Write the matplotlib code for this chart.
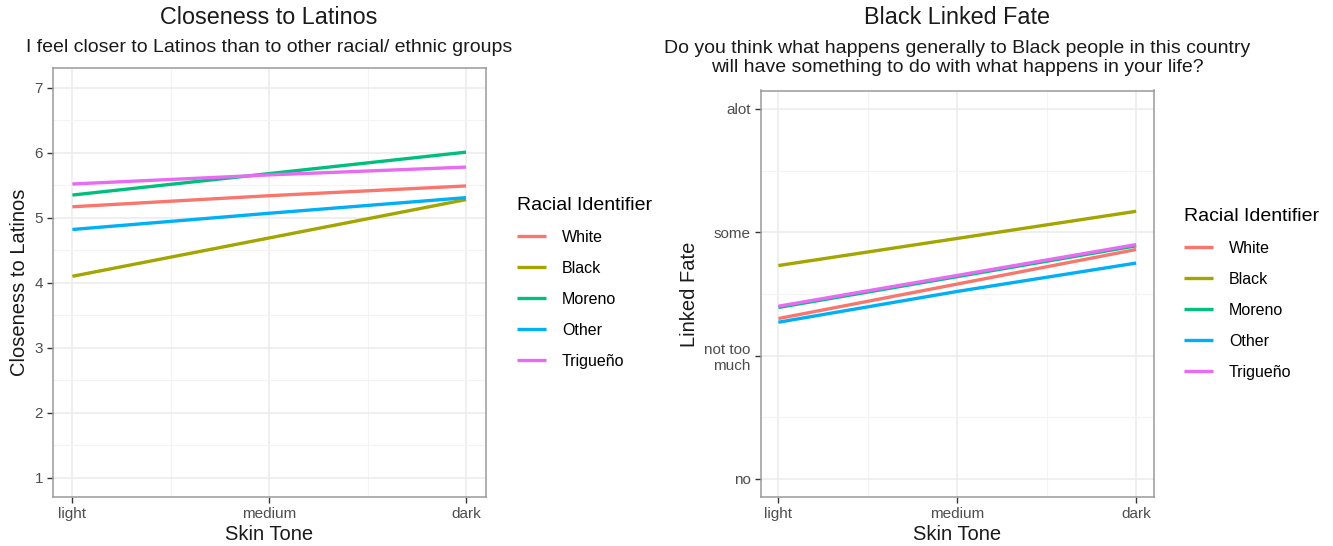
import matplotlib.pyplot as plt
from matplotlib.ticker import FixedLocator

plt.rcParams['font.family'] = ['Liberation Sans', 'DejaVu Sans']

W, H = 1333, 546

tones = ["light", "medium", "dark"]
tone_pos = [1, 2, 3]
groups = ["White", "Black", "Moreno", "Other", "Trigueño"]
colors = ["#F8766D", "#A3A500", "#00BF7D", "#00B0F6", "#E76BF3"]

# closeness to Latinos (1-7 scale), light / medium / dark
close_white = [5.17, 5.34, 5.49]
close_black = [4.10, 4.69, 5.28]
close_moreno = [5.35, 5.68, 6.01]
close_other = [4.82, 5.07, 5.31]
close_trig = [5.52, 5.66, 5.78]

# linked fate (1=no ... 4=alot)
fate_white = [2.30, 2.58, 2.86]
fate_black = [2.73, 2.95, 3.17]
fate_moreno = [2.39, 2.64, 2.89]
fate_other = [2.27, 2.52, 2.75]
fate_trig = [2.40, 2.65, 2.90]

fate_levels = [1, 2, 3, 4]
fate_labels = ["no", "not too\nmuch", "some", "alot"]

close_series = [close_white, close_black, close_moreno, close_other, close_trig]
fate_series = [fate_white, fate_black, fate_moreno, fate_other, fate_trig]


def px(x0, y0, x1, y1):
    return [x0 / W, 1 - y1 / H, (x1 - x0) / W, (y1 - y0) / H]


def style(ax, xminor, yminor):
    ax.set_facecolor("white")
    ax.xaxis.set_minor_locator(FixedLocator(xminor))
    ax.yaxis.set_minor_locator(FixedLocator(yminor))
    ax.grid(which="major", color="#EBEBEB", lw=1.1)
    ax.grid(which="minor", color="#F3F3F3", lw=0.8)
    ax.set_axisbelow(True)
    for s in ax.spines.values():
        s.set_color("#9A9A9A")
        s.set_linewidth(1.1)
    ax.tick_params(which="major", length=4, width=1, color="#333333",
                   labelcolor="#4D4D4D", labelsize=11, pad=3)
    ax.tick_params(which="minor", length=0)
    ax.set_xticks(tone_pos)
    ax.set_xticklabels(tones)
    ax.set_xlim(0.9, 3.1)
    ax.set_xlabel("Skin Tone", fontsize=14.5, color="#1A1A1A", labelpad=3)


def add_legend(ax):
    leg = ax.legend(loc="center left", bbox_to_anchor=(1.04, 0.5), frameon=False,
                    title="Racial Identifier", fontsize=11.5, title_fontsize=14,
                    handlelength=1.8, labelspacing=1.0, handletextpad=1.0)
    leg._legend_box.align = "left"
    return leg


fig = plt.figure(figsize=(W / 100, H / 100), dpi=100)

ax1 = fig.add_axes(px(52.7, 68.3, 485.7, 497.3))
for g, c, vals in zip(groups, colors, close_series):
    ax1.plot(tone_pos, vals, color=c, lw=2.4, label=g, solid_capstyle="butt")
style(ax1, [1.5, 2.5], [1.5, 2.5, 3.5, 4.5, 5.5, 6.5])
ax1.set_ylim(0.7, 7.3)
ax1.set_yticks([1, 2, 3, 4, 5, 6, 7])
ax1.set_ylabel("Closeness to Latinos", fontsize=14.5, color="#1A1A1A", labelpad=4)
add_legend(ax1)

ax2 = fig.add_axes(px(760.5, 90.5, 1154, 497.3))
for g, c, vals in zip(groups, colors, fate_series):
    ax2.plot(tone_pos, vals, color=c, lw=2.4, label=g, solid_capstyle="butt")
style(ax2, [1.5, 2.5], [1.5, 2.5, 3.5])
ax2.set_ylim(0.85, 4.15)
ax2.set_yticks(fate_levels)
ax2.set_yticklabels(fate_labels, ha="right", multialignment="right")
ax2.set_ylabel("Linked Fate", fontsize=14.5, color="#1A1A1A", labelpad=4)
add_legend(ax2)

fig.text(269 / W, 1 - 18 / H, "Closeness to Latinos", ha="center", va="center",
         fontsize=16.8, color="#1A1A1A")
fig.text(269 / W, 1 - 48 / H,
         "I feel closer to Latinos than to other racial/ ethnic groups",
         ha="center", va="center", fontsize=14, color="#1A1A1A")
fig.text(957 / W, 1 - 18 / H, "Black Linked Fate", ha="center", va="center",
         fontsize=16.8, color="#1A1A1A")
fig.text(957 / W, 1 - 58 / H,
         "Do you think what happens generally to Black people in this country\n"
         "will have something to do with what happens in your life?",
         ha="center", va="center", fontsize=14, color="#1A1A1A",
         linespacing=1.2)

fig.savefig("out.png", dpi=100, facecolor="white")
